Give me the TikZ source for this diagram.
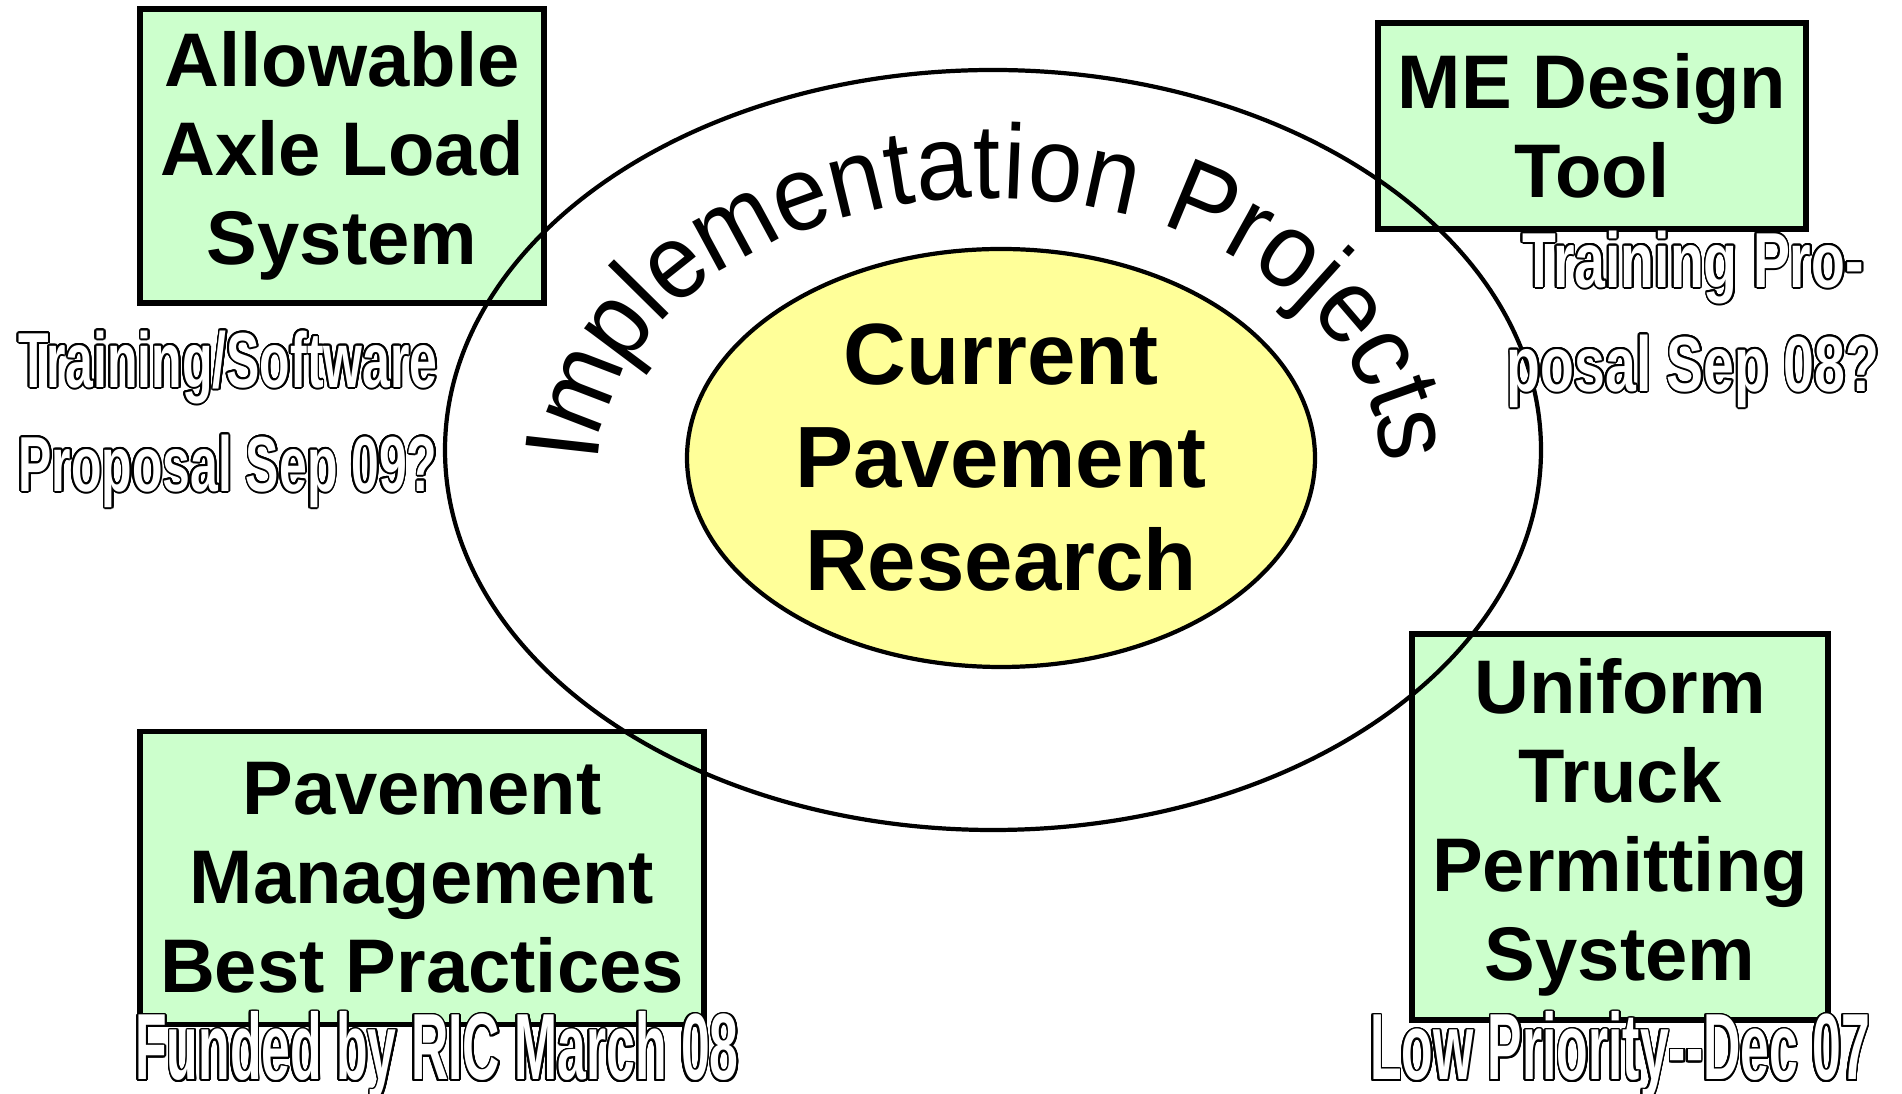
\documentclass[tikz,border=0pt]{standalone}
\usepackage{fontspec}
\setmainfont{Liberation Sans}
\newfontfamily\archfont[FakeStretch=0.92]{Liberation Sans}
\newfontfamily\notefont[FakeStretch=0.64]{Liberation Sans}
\newfontfamily\menotefont[FakeStretch=0.71]{Liberation Sans}
\newfontfamily\fundfont[FakeStretch=0.55]{Liberation Sans}
\usepackage{contour}
\contourlength{0.5pt}
\contournumber{24}
\usetikzlibrary{shapes.geometric}
\usetikzlibrary{decorations.text}
\usetikzlibrary{arrows.meta, positioning}

\definecolor{boxgreen}{HTML}{CCFFCC}
\definecolor{coreyellow}{HTML}{FFFF99}
\newcommand{\olab}[1]{{\color{white}\contour{black}{#1}}}

\begin{document}
\begin{tikzpicture}[
    every node/.style = {inner sep=0pt, align=center},
    proj/.style = {rectangle, draw, line width=1.5pt, fill=boxgreen,
    font=\bfseries\fontsize{0.76cm}{0.89cm}\selectfont},
    ring/.style = {ellipse, draw, line width=1.2pt},
    note/.style = {font=\notefont\bfseries\fontsize{0.78cm}{1.04cm}\selectfont},
    fund/.style = {font=\fundfont\bfseries\fontsize{0.94cm}{1.1cm}\selectfont}
    ]
    \useasboundingbox (0,0) rectangle (19.02,10.94);
    %
    \node (Axle) [proj, minimum width=4.04cm, minimum height=2.94cm] at (3.42,9.38)
        {Allowable\\Axle Load\\System};
    \node (MEDesign) [proj, minimum width=4.28cm, minimum height=2.06cm] at (15.92,9.68)
        {ME Design\\Tool};
    \node (PavMgmt) [proj, minimum width=5.64cm, minimum height=2.93cm] at (4.22,2.16)
        {Pavement\\Management\\Best Practices};
    \node (Permit) [proj, minimum width=4.16cm, minimum height=3.86cm] at (16.20,2.67)
        {Uniform\\Truck\\Permitting\\System};
    %
    \node (Ring) [ring, minimum width=10.96cm, minimum height=7.6cm] at (9.93,6.44) {};
    \node (Core) [ring, fill=coreyellow, minimum width=6.28cm, minimum height=4.18cm,
        font=\bfseries\fontsize{0.87cm}{1.03cm}\selectfont] at (10.01,6.36)
        {Current\\Pavement\\Research};
    %
    \coordinate (Hub) at (9.90,6.24);
    \path [decorate, decoration={text along path, text align={fit to path}, raise=-0.28cm,
        text={|\archfont\fontsize{1.06cm}{1.06cm}\selectfont|Implementation Projects}}]
        ([shift={(178:4.2cm and 3.0cm)}]Hub)
        arc [start angle=178, end angle=2, x radius=4.2, y radius=3.0];
    %
    \node (AxleNote) [note] at (2.28,6.74)
        {\olab{Training/Software}\\\olab{Proposal Sep 09?}};
    \node (MENote) [note, font=\menotefont\bfseries\fontsize{0.78cm}{1.04cm}\selectfont]
        at (16.93,7.74) {\olab{Training Pro-}\\\olab{posal Sep 08?}};
    \node (PavNote) [fund, anchor=base] at (4.37,0.14) {\olab{Funded by RIC March 08}};
    \node (PermitNote) [fund, anchor=base] at (16.20,0.14) {\olab{Low Priority{-}{-}Dec 07}};
\end{tikzpicture}
\end{document}
